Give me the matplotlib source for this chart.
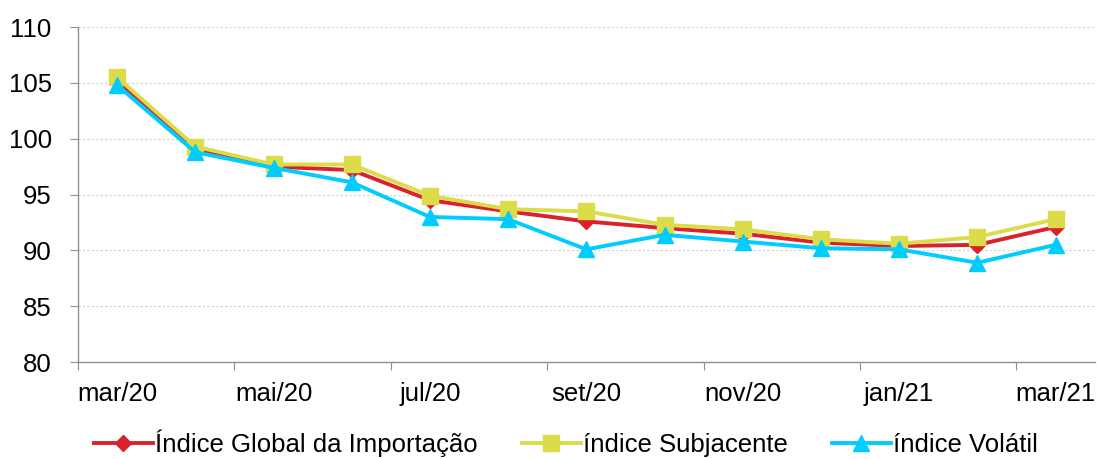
import matplotlib
matplotlib.use("Agg")
import matplotlib.pyplot as plt
import numpy as np

plt.rcParams['font.family'] = ['Liberation Sans', 'DejaVu Sans']

months = ["mar/20", "abr/20", "mai/20", "jun/20", "jul/20", "ago/20", "set/20",
          "out/20", "nov/20", "dez/20", "jan/21", "fev/21", "mar/21"]
global_idx = [105.2, 99.0, 97.5, 97.2, 94.5, 93.5, 92.6, 92.0, 91.5, 90.7, 90.4, 90.5, 92.1]
subjacente = [105.5, 99.3, 97.7, 97.7, 94.9, 93.7, 93.5, 92.3, 91.9, 91.0, 90.6, 91.2, 92.8]
volatil = [104.8, 98.8, 97.4, 96.1, 93.0, 92.8, 90.1, 91.4, 90.8, 90.2, 90.1, 88.9, 90.5]
series_names = ["Índice Global da Importação", "índice Subjacente", "índice Volátil"]

fig = plt.figure(figsize=(10.99, 4.59), dpi=100)
ax = fig.add_axes([0.071, 0.211, 0.925, 0.730])

x = np.arange(len(months))
ax.plot(x, global_idx, color="#d9222a", lw=2.8, marker="D", ms=8, label=series_names[0], zorder=3)
ax.plot(x, subjacente, color="#dcdc4a", lw=2.8, marker="s", ms=12, label=series_names[1], zorder=4)
ax.plot(x, volatil, color="#00ccff", lw=2.8, marker="^", ms=12, label=series_names[2], zorder=5)

ax.set_xlim(-0.5, len(months) - 0.5)
ax.set_ylim(80, 110)
ax.set_yticks(np.arange(80, 111, 5))
ax.yaxis.grid(True, color="#d0d0d0", linestyle=(0, (2, 2)), lw=0.8)
ax.set_axisbelow(True)

ax.set_xticks(np.arange(-0.5, len(months) - 1, 2))
ax.set_xticklabels([])
ax.set_xticks(x[::2], minor=True)
ax.set_xticklabels(months[::2], minor=True)
ax.tick_params(axis='x', which='minor', length=0, pad=14, labelsize=18.5)
ax.tick_params(axis='x', which='major', length=6, color="#909090")
ax.tick_params(axis='y', length=6, color="#909090", labelsize=18.5, pad=13)

for s in ["top", "right"]:
    ax.spines[s].set_visible(False)
for s in ["left", "bottom"]:
    ax.spines[s].set_color("#909090")
    ax.spines[s].set_linewidth(1)

fig.legend(loc="lower center", bbox_to_anchor=(0.515, -0.045), ncol=3, frameon=False,
           fontsize=18.5, handlelength=2.3, columnspacing=1.7, handletextpad=0.1)

fig.savefig("out.png", dpi=100)
